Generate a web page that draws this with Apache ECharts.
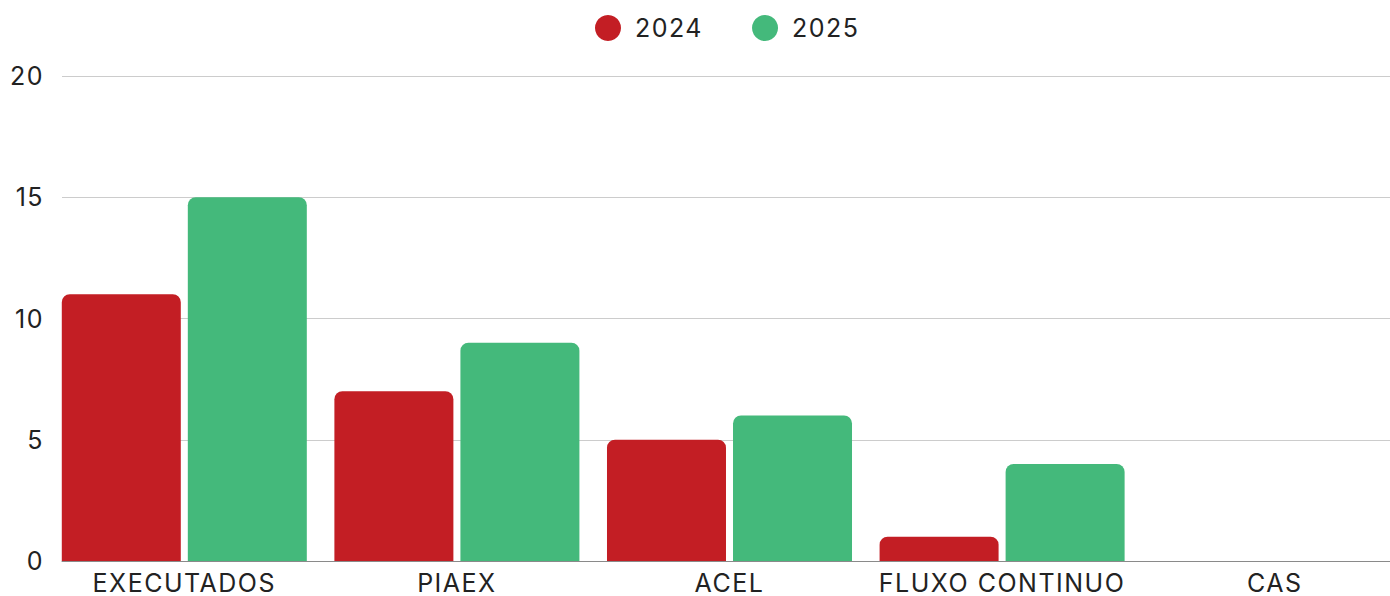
<!DOCTYPE html>
<html>
<head>
<meta charset="utf-8">
<script src="https://cdn.jsdelivr.net/npm/echarts@6/dist/echarts.min.js"></script>
<style>
  html, body, #main { margin: 0; padding: 0; width: 100%; height: 100%; overflow: hidden; background: #fff; }
  #main text { letter-spacing: 1.5px; }
</style>
</head>
<body>
<div id="main"></div>
<script>
const categories = ["EXECUTADOS", "PIAEX", "ACEL", "FLUXO CONTINUO", "CAS"];
const values2024 = [11, 7, 5, 1, 0];
const values2025 = [15, 9, 6, 4, 0];
const yTicks = [0, 5, 10, 15, 20];

const font = "Inter";
const myChart = echarts.init(document.getElementById("main"), null, { renderer: "svg" });

myChart.setOption({
  animation: false,
  textStyle: { fontFamily: font },
  color: ["#C31E24", "#44B97B"],
  legend: {
    top: 10,
    left: 590,
    itemWidth: 26,
    itemHeight: 26,
    itemGap: 55,
    icon: "circle",
    textStyle: { fontSize: 25, color: "#222", fontFamily: font, padding: [0, 0, 0, 9] },
    data: ["2024", "2025"],
  },
  // grid 0: y axis, gridlines and base line; grid 1: the bars (wider, runs past the right edge)
  grid: [
    { left: 62, right: 0, top: 76, bottom: 35, outerBoundsMode: "none" },
    { left: 48, width: 1363, top: 76, bottom: 35, outerBoundsMode: "none" },
  ],
  xAxis: [
    {
      gridIndex: 0,
      type: "category",
      data: categories,
      axisLine: { lineStyle: { color: "#8a8a8a", width: 1 } },
      axisTick: { show: false },
      axisLabel: { show: false },
    },
    {
      gridIndex: 1,
      type: "category",
      data: categories,
      axisLine: { show: false },
      axisTick: { show: false },
      axisLabel: { interval: 0, fontSize: 25, color: "#222", fontFamily: font, margin: 9 },
    },
  ],
  yAxis: [
    {
      gridIndex: 0,
      type: "value",
      min: yTicks[0],
      max: yTicks[yTicks.length - 1],
      interval: 5,
      axisLine: { show: false },
      axisTick: { show: false },
      axisLabel: { fontSize: 25, color: "#222", fontFamily: font, margin: 18 },
      splitLine: { lineStyle: { color: "#cccccc", width: 1 } },
    },
    {
      gridIndex: 1,
      type: "value",
      min: yTicks[0],
      max: yTicks[yTicks.length - 1],
      interval: 5,
      show: false,
    },
  ],
  series: [
    {
      name: "2024",
      type: "bar",
      xAxisIndex: 1,
      yAxisIndex: 1,
      data: values2024,
      barWidth: 119,
      barGap: "5.9%",
      itemStyle: { borderRadius: [8, 8, 0, 0] },
    },
    {
      name: "2025",
      type: "bar",
      xAxisIndex: 1,
      yAxisIndex: 1,
      data: values2025,
      barWidth: 119,
      barGap: "5.9%",
      itemStyle: { borderRadius: [8, 8, 0, 0] },
    },
  ],
});

window.onresize = myChart.resize;
</script>
</body>
</html>
